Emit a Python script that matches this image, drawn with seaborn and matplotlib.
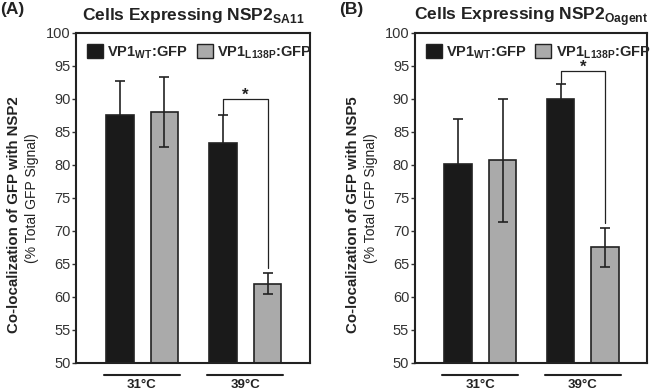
import numpy as np
import pandas as pd
import matplotlib
matplotlib.use('Agg')
import matplotlib.pyplot as plt
import seaborn as sns

# Data -------------------------------------------------------------------------

temps = ['31°C', '39°C']
strains = ['WT', 'L138P']

# Panel A: NSP2 SA11
a_wt = [87.5, 83.4]
a_wt_err = [5.2, 4.1]
a_mut = [88.0, 62.0]
a_mut_err = [5.3, 1.6]

# Panel B: NSP2 Oagent
b_wt = [80.2, 90.0]
b_wt_err = [6.7, 2.3]
b_mut = [80.7, 67.5]
b_mut_err = [9.3, 2.9]

# significance brackets: (bracket height, right leg bottom, left leg bottom)
a_bracket = [90.0, 64.4, 87.6]
b_bracket = [94.2, 71.2, 92.4]

panels = [
    ('(A)', r'Cells Expressing NSP2$_{\mathbf{SA11}}$', 'NSP2',
     a_wt, a_wt_err, a_mut, a_mut_err, a_bracket),
    ('(B)', r'Cells Expressing NSP2$_{\mathbf{Oagent}}$', 'NSP5',
     b_wt, b_wt_err, b_mut, b_mut_err, b_bracket),
]

# Style -------------------------------------------------------------------------

sns.set_style('ticks')
plt.rcParams['font.family'] = ['Liberation Sans', 'DejaVu Sans']
plt.rcParams['mathtext.fontset'] = 'custom'
plt.rcParams['mathtext.bf'] = 'Liberation Sans:bold'
plt.rcParams['mathtext.rm'] = 'Liberation Sans'

dark = '#1a1a1a'
grey = '#aaaaaa'
edge = '#222222'

fig = plt.figure(figsize=(6.5, 3.92), dpi=100)
ax_pos = [[0.117, 0.074, 0.360, 0.842], [0.638, 0.074, 0.358, 0.842]]

for pos, (tag, title, partner, wt, wt_err, mut, mut_err, br) in zip(ax_pos, panels):
    ax = fig.add_axes(pos)
    df = pd.DataFrame({
        'temp': temps * 2,
        'strain': ['WT'] * 2 + ['L138P'] * 2,
        'value': wt + mut,
    })
    sns.barplot(data=df, x='temp', y='value', hue='strain', order=temps,
                hue_order=strains, palette=[dark, grey], width=0.87, gap=0.38,
                edgecolor=edge, linewidth=1.2, errorbar=None, ax=ax,
                legend=False, saturation=1)

    # error bars from the bar containers; the black bars hide their lower half
    for cont, vals, errs, z in zip(ax.containers, [wt, mut],
                                   [wt_err, mut_err], [0.5, 5]):
        xs = [p.get_x() + p.get_width() / 2 for p in cont.patches]
        ax.errorbar(xs, vals, yerr=errs, fmt='none', ecolor=edge,
                    elinewidth=1.2, capsize=3.5, capthick=1.2, zorder=z)

    # bracket over the 39°C pair
    x_l = ax.containers[0].patches[1]
    x_r = ax.containers[1].patches[1]
    xl = x_l.get_x() + x_l.get_width() / 2
    xr = x_r.get_x() + x_r.get_width() / 2
    ax.plot([xl, xl, xr, xr], [br[2], br[0], br[0], br[1]], color=edge,
            lw=0.9, zorder=6)
    ax.text((xl + xr) / 2, br[0] + 0.6, '*', ha='center', va='center',
            fontsize=12, fontweight='bold', color=edge)

    ax.set_ylim(50, 100)
    ax.set_xlim(-0.64, 1.63)
    ax.set_yticks(np.arange(50, 101, 5))
    ax.tick_params(axis='y', labelsize=10.5, length=3, width=1, color='#333333',
                   labelcolor='#333333', pad=1)
    ax.set_xticks([])
    ax.set_xlabel('')
    ax.set_ylabel('')
    for sp in ax.spines.values():
        sp.set_visible(True)
        sp.set_linewidth(1.5)
        sp.set_color(edge)

    # group underlines and temperature labels
    trans = ax.get_xaxis_transform()
    for i, t in enumerate(temps):
        ax.plot([i - 0.37, i + 0.37], [-0.035, -0.035], transform=trans,
                color=edge, lw=1.5, clip_on=False)
        ax.text(i, -0.068, t, transform=trans, ha='center', va='center',
                fontsize=9.5, fontweight='bold', color=edge)

    # legend
    handles = [plt.Rectangle((0, 0), 1, 1, facecolor=dark, edgecolor=edge),
               plt.Rectangle((0, 0), 1, 1, facecolor=grey, edgecolor=edge)]
    labels = [r'VP1$_{\mathbf{WT}}$:GFP', r'VP1$_{\mathbf{L138P}}$:GFP']
    ax.legend(handles, labels, loc='upper left', bbox_to_anchor=(0.0, 1.0),
              ncol=2, frameon=False, handlelength=1.1, handleheight=1.1,
              handletextpad=0.3, columnspacing=0.6, borderaxespad=0.35,
              prop={'weight': 'bold', 'size': 10.5})

    ax.set_title(title, fontsize=12.5, fontweight='bold', pad=9, color=edge)
    ax.text(pos[0] - 0.117, 0.975, tag, transform=fig.transFigure,
            fontsize=12.5, fontweight='bold', va='center', ha='left', color=edge)
    fig.text(pos[0] - 0.095, 0.452,
             'Co-localization of GFP with ' + partner, rotation=90,
             ha='center', va='center', fontsize=10.8, fontweight='bold',
             color=edge)
    fig.text(pos[0] - 0.068, pos[1] + pos[3] / 2, '(% Total GFP Signal)',
             rotation=90, ha='center', va='center', fontsize=10, color=edge)

fig.savefig('out.png', dpi=100)
